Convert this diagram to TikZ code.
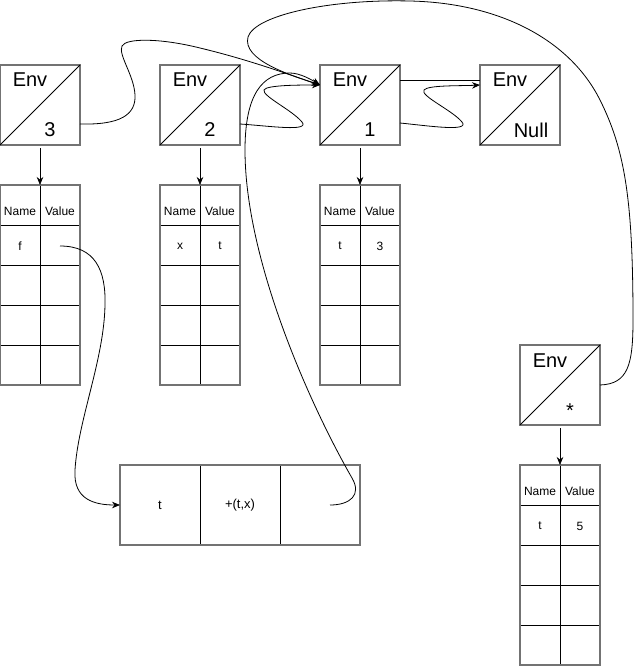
\documentclass[tikz,border=0pt]{standalone}
\usepackage{fontspec}
\setmainfont{Liberation Sans}
\usetikzlibrary{arrows.meta}
\tikzset{
  border/.style={draw=black!55, line width=1.5pt},
  envbox/.style={border, minimum size=80pt, inner sep=0pt, outer sep=0pt},
  framebox/.style={border, inner sep=0pt, outer sep=0pt},
  envlbl/.style={font=\fontsize{20}{24}\selectfont, inner sep=0pt},
  celltxt/.style={font=\fontsize{12}{14}\selectfont, inner sep=0pt},
  bigcell/.style={font=\fontsize{13}{15}\selectfont, inner sep=0pt},
  gridline/.style={draw=black, line width=0.9pt},
  diag/.style={draw=black, line width=0.8pt},
  link/.style={draw=black, line width=0.8pt, -{Stealth[length=8pt,width=6.5pt]}},
  plainlink/.style={draw=black, line width=0.8pt},
}
\begin{document}
\begin{tikzpicture}[x=1pt,y=-1pt]
\useasboundingbox (0,0) rectangle (635,669);

% ---------- table grid lines (drawn first, frames on top) ----------
\foreach \x/\y in {0/185,160/185,320/185,520/465}{
  \foreach \d in {40,80,120,160}{
    \draw[gridline] (\x,\y+\d) -- (\x+80,\y+\d);
  }
  \draw[gridline] (\x+40,\y) -- (\x+40,\y+200);
}
\draw[gridline] (200,465) -- (200,545);
\draw[gridline] (280,465) -- (280,545);

% ---------- environment boxes ----------
\node[envbox] (e3) at (40,105) {};
\node[envbox] (e2) at (200,105) {};
\node[envbox] (e1) at (360,105) {};
\node[envbox] (e0) at (520,105) {};
\node[envbox] (es) at (560,385) {};
\foreach \n in {e3,e2,e1,e0,es}{
  \draw[diag] (\n.south west) -- (\n.north east);
}
\node[envlbl] (e3a) at (30,80) {Env};
\node[envlbl] (e3b) at (50,130) {3};
\node[envlbl] (e2a) at (190,80) {Env};
\node[envlbl] (e2b) at (210,130) {2};
\node[envlbl] (e1a) at (350,80) {Env};
\node[envlbl] (e1b) at (370,130) {1};
\node[envlbl] (e0a) at (510,80) {Env};
\node[envlbl] (e0b) at (531,130) {Null};
\node[envlbl] (esa) at (550,361) {Env};
\node[envlbl] (esb) at (570,411) {*};

% ---------- frames (tables) ----------
\node[framebox, minimum width=80pt, minimum height=200pt] (t3) at (40,285) {};
\node[framebox, minimum width=80pt, minimum height=200pt] (t2) at (200,285) {};
\node[framebox, minimum width=80pt, minimum height=200pt] (t1) at (360,285) {};
\node[framebox, minimum width=80pt, minimum height=200pt] (ts) at (560,565) {};
\node[framebox, minimum width=240pt, minimum height=80pt] (cl) at (240,505) {};

% ---------- table texts ----------
\foreach \x/\y in {0/185,160/185,320/185,520/465}{
  \node[celltxt] at (\x+20,\y+26) {Name};
  \node[celltxt] at (\x+60,\y+26) {Value};
}
\node[celltxt] (f3) at (20,246) {f};
\node[celltxt] (x2) at (180,246) {x};
\node[celltxt] (v2) at (220,246) {t};
\node[celltxt] (t1n) at (340,246) {t};
\node[celltxt] (t1v) at (380,246) {3};
\node[celltxt] (tsn) at (540,526) {t};
\node[celltxt] (tsv) at (580,526) {5};
\node[bigcell] (clp) at (160,505) {t};
\node[bigcell] (clb) at (240,505) {+(t,x)};
\coordinate (fval) at (60,246);

% ---------- env -> frame arrows ----------
\draw[link, shorten <=3pt] (e3.south) -- (t3.north);
\draw[link, shorten <=3pt] (e2.south) -- (t2.north);
\draw[link, shorten <=3pt] (e1.south) -- (t1.north);
\draw[link, shorten <=3pt] (es.south) -- (ts.north);

% ---------- parent links ----------
\draw[link] ([yshift=-19pt]e3.east) .. controls (120,125) and (136,115) .. (135,95)
  .. controls (134,75) and (118,55) .. (122,46)
  .. controls (126,38) and (160,38) .. (200,48)
  .. controls (250,60) and (290,75) .. ([yshift=20pt]e1.west);

\draw[link] ([yshift=-19pt]e2.east) .. controls (270,126) and (310,132) .. (302,122)
  .. controls (292,110) and (262,96) .. (264,90)
  .. controls (266,85) and (300,85) .. ([yshift=20pt]e1.west);

\draw[link] ([yshift=-18pt]e1.east) .. controls (430,126) and (470,132) .. (462,122)
  .. controls (452,110) and (420,96) .. (424,90)
  .. controls (428,85) and (460,86) .. ([yshift=20pt]e0.west);

\draw[plainlink] ([yshift=25pt]e1.east) -- ([yshift=25pt]e0.west);

\draw[link] (es.east) .. controls (628,384) and (633,365) .. (633,320)
  .. controls (633,200) and (625,150) .. (600,100)
  .. controls (570,40) and (500,3) .. (410,1)
  .. controls (330,-1) and (255,15) .. (248,37)
  .. controls (242,60) and (290,75) .. ([yshift=20pt]e1.west);

\draw[link] ([xshift=-30pt]cl.east) .. controls (350,505) and (362,495) .. (352,478)
  .. controls (310,405) and (245,260) .. (245,150)
  .. controls (245,95) and (262,73) .. (290,73)
  .. controls (300,73) and (312,80) .. ([yshift=20pt]e1.west);

% ---------- closure link ----------
\draw[link] (fval) .. controls (95,246) and (106,270) .. (105,305)
  .. controls (104,360) and (78,420) .. (75,470)
  .. controls (73,500) and (95,505) .. (cl.west);
\end{tikzpicture}
\end{document}
